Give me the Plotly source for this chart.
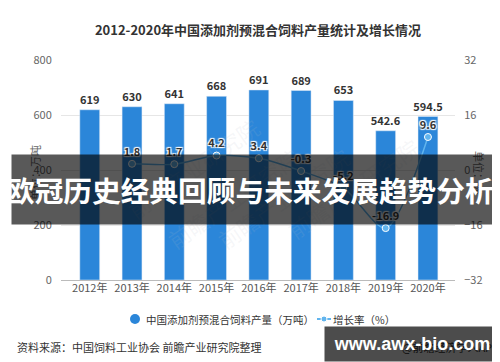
import plotly.graph_objects as go

years = ["2012年", "2013年", "2014年", "2015年", "2016年", "2017年", "2018年", "2019年", "2020年"]
output = [619, 630, 641, 668, 691, 689, 653, 542.6, 594.5]
output_labels = ["619", "630", "641", "668", "691", "689", "653", "542.6", "594.5"]
growth_years = ["2013年", "2014年", "2015年", "2016年", "2017年", "2018年", "2019年", "2020年"]
growth = [1.8, 1.7, 4.2, 3.4, -0.3, -5.2, -16.9, 9.6]
left_ticks = [0, 200, 400, 600, 800]
right_ticks = [-32, -16, 0, 16, 32]
legend_names = ["中国添加剂预混合饲料产量（万吨）", "增长率（%）"]

BAR = "#2b86d9"
LINE = "#62b5ee"
FONT = "Noto Sans CJK SC, Noto Sans, sans-serif"

# plot area in pixels
L, R, T, B = 53, 447, 52, 272
W, H = R - L, B - T
def px(x):
    return (x - L) / W
def py(y):
    return (B - y) / H

fig = go.Figure()
fig.add_trace(go.Bar(
    x=list(range(len(years))), y=output, width=0.47, marker_color=BAR,
    text=output_labels, textposition="outside", cliponaxis=False, constraintext="none",
    textfont=dict(size=11, color="#333", family=FONT, weight="bold"),
    name=legend_names[0], showlegend=False, hoverinfo="skip"))
gx = [years.index(g) for g in growth_years]
fig.add_trace(go.Scatter(
    x=gx, y=growth, yaxis="y2", mode="lines+markers+text", name=legend_names[1],
    line=dict(color=LINE, width=1.5, shape="spline", smoothing=0.8),
    marker=dict(size=7, color=LINE, line=dict(color="white", width=1)),
    text=[str(v) for v in growth], textposition="top center", cliponaxis=False,
    showlegend=False,
    textfont=dict(size=11, color="#333", family=FONT, weight="bold",
                  shadow="1px 1px 1px white, -1px -1px 1px white, 1px -1px 1px white, -1px 1px 1px white")))

fig.update_layout(
    width=500, height=362, autosize=False,
    margin=dict(l=L, r=500 - R, t=T, b=362 - B, pad=0),
    paper_bgcolor="white", plot_bgcolor="white",
    font=dict(family=FONT, color="#333"),
    title=dict(text="<b>2012-2020年中国添加剂预混合饲料产量统计及增长情况</b>",
               x=0.5, xref="paper", xanchor="center", y=1 - 22 / 362, yanchor="middle",
               font=dict(size=13, color="#333", family=FONT)),
    xaxis=dict(range=[-0.68, 8.64], tickvals=list(range(len(years))), ticktext=years,
               tickfont=dict(size=11, color="#555"), showgrid=False, zeroline=False,
               showline=False, ticks=""),
    yaxis=dict(range=[0, 800], tickvals=left_ticks, tickfont=dict(size=11, color="#666"),
               gridcolor="#e6e6e6", gridwidth=1, zeroline=True, zerolinecolor="#bbb",
               zerolinewidth=1, showline=False, ticks="outside", ticklen=6, tickcolor="white"),
    yaxis2=dict(range=[-32, 32], tickvals=right_ticks, overlaying="y", side="right",
                tickfont=dict(size=11, color="#666"), showgrid=False, zeroline=False,
                showline=False, ticks="outside", ticklen=6, tickcolor="white"),
    showlegend=False,
)

# manual legend symbols
ly = py(311)
shapes = [
    dict(type="circle", xref="paper", yref="paper", x0=px(122), x1=px(132),
         y0=py(316), y1=py(306), fillcolor=BAR, line=dict(width=0)),
    dict(type="line", xref="paper", yref="paper", x0=px(309), x1=px(323), y0=ly, y1=ly,
         line=dict(color=LINE, width=2)),
    dict(type="circle", xref="paper", yref="paper", x0=px(313), x1=px(319),
         y0=py(314), y1=py(308), fillcolor=LINE, line=dict(width=1, color="white")),
]
fig.update_layout(shapes=shapes)

ann = []
# faint watermarks
for (xx, yy) in [(185, 100), (420, 120), (350, 250), (150, 250)]:
    ann.append(dict(x=px(xx), y=py(yy), xref="paper", yref="paper", text="前瞻产业研究院",
                    showarrow=False, textangle=-35, font=dict(size=22, color="rgba(180,190,200,0.12)")))
# legend texts
ann.append(dict(x=px(136), y=ly, xref="paper", yref="paper", xanchor="left", yanchor="middle",
                text=legend_names[0], showarrow=False, font=dict(size=10.5, color="#333")))
ann.append(dict(x=px(323), y=ly, xref="paper", yref="paper", xanchor="left", yanchor="middle",
                text=legend_names[1], showarrow=False, font=dict(size=10.5, color="#333")))
# axis titles
ann.append(dict(x=px(17), y=py(165), xref="paper", yref="paper", text="单位：万吨",
                showarrow=False, textangle=-90, font=dict(size=11, color="#666")))
ann.append(dict(x=px(481), y=py(165), xref="paper", yref="paper", text="单位：%",
                showarrow=False, textangle=90, font=dict(size=11, color="#666")))
# source
ann.append(dict(x=px(7), y=py(339), xref="paper", yref="paper", xanchor="left", yanchor="middle",
                text="资料来源：中国饲料工业协会 前瞻产业研究院整理", showarrow=False,
                font=dict(size=11, color="#333")))
ann.append(dict(x=px(493), y=py(339), xref="paper", yref="paper", xanchor="right", yanchor="middle",
                text="@前瞻经济学人APP", showarrow=False, font=dict(size=11, color="#333")))
# overlay banner background
ann.append(dict(x=px(250.5), y=py(181), xref="paper", yref="paper", xanchor="center", yanchor="middle",
                text=" ", showarrow=False,
                width=493, height=69, bgcolor="rgba(0,0,0,0.65)", borderpad=0,
                font=dict(size=10, color="white")))
# overlay banner text
ann.append(dict(x=px(242), y=py(182), xref="paper", yref="paper", xanchor="center", yanchor="middle",
                text="<b>欧冠历史经典回顾与未来发展趋势分析</b>", showarrow=False,
                font=dict(size=28.7, color="white", family=FONT)))
# watermark box
ann.append(dict(x=px(404), y=py(336), xref="paper", yref="paper", xanchor="center", yanchor="middle",
                text="<b>www.awx-bio.com</b>", showarrow=False,
                width=174, height=34, bgcolor="rgba(0,0,0,0.7)", borderpad=0,
                font=dict(size=18, color="white", family="Liberation Sans, Arial, sans-serif")))
fig.update_layout(annotations=ann)

fig.write_html("out.html")
